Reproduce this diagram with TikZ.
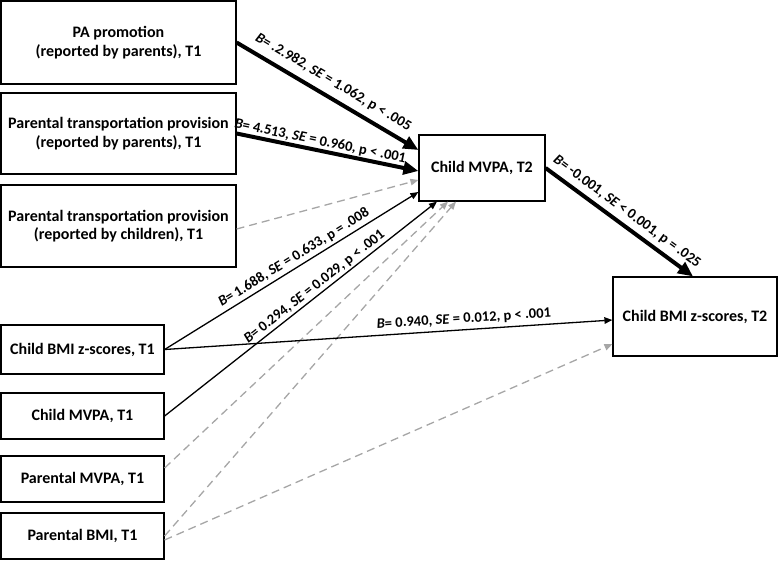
\documentclass[tikz,border=0pt]{standalone}
\usepackage{fontspec}
\setmainfont{Carlito}
\usetikzlibrary{arrows.meta}

\begin{document}
\begin{tikzpicture}[x=1pt, y=-1pt,
        box/.style={draw, line width=1.2pt, align=center, inner sep=2pt,
            font=\fontsize{16}{18.5}\selectfont\bfseries},
        sig/.style={line width=1.3pt, -{Triangle[length=8pt,width=6.5pt]}},
        strong/.style={line width=4pt, -{Triangle[length=15pt,width=13pt]}},
        ns/.style={line width=1.3pt, black!35, dash pattern=on 8pt off 5pt,
            -{Triangle[length=8pt,width=6.5pt]}},
        est/.style={sloped, above, inner sep=3pt, font=\fontsize{14.5}{16}\selectfont\bfseries}]
        %\draw[step=50pt,gray,very thin] (0,0) grid (779,560);
        \useasboundingbox (0,0) rectangle (779,560);

        \node[box, minimum width=235pt, minimum height=83pt] (pa) at (118.5,42.5) {PA promotion\\(reported by parents), T1};
        \node[box, minimum width=235pt, minimum height=81pt] (tpp) at (118.5,133.5) {Parental transportation provision\\(reported by parents), T1};
        \node[box, minimum width=235pt, minimum height=82pt] (tpc) at (118.5,226) {Parental transportation provision\\(reported by children), T1};
        \node[box, minimum width=163pt, minimum height=49pt] (bmi1) at (82.5,349.5) {Child BMI z-scores, T1};
        \node[box, minimum width=163pt, minimum height=46pt] (mvpa1) at (82.5,416) {Child MVPA, T1};
        \node[box, minimum width=163pt, minimum height=46pt] (pmvpa) at (82.5,479) {Parental MVPA, T1};
        \node[box, minimum width=163pt, minimum height=46pt] (pbmi) at (82.5,536) {Parental BMI, T1};

        \node[box, minimum width=126pt, minimum height=66pt] (mvpa2) at (482,168) {Child MVPA, T2};
        \node[box, minimum width=164pt, minimum height=79pt] (bmi2) at (695,316.5) {Child BMI z-scores, T2};

        \draw[ns] ([yshift=-3pt]tpc.east) -- ([yshift=-12pt]mvpa2.west);
        \draw[ns] ([yshift=11pt]pmvpa.east) -- ([xshift=-34pt]mvpa2.south);
        \draw[ns] (pbmi.east) -- ([xshift=-26pt]mvpa2.south);
        \draw[ns] ([yshift=-4pt]pbmi.east) -- ([yshift=-27.5pt]bmi2.west);

        \draw[strong] (pa.east) -- ([yshift=18pt]mvpa2.west)
            node[est, pos=0.49, inner sep=7pt] {\textit{B}= .2.982, \textit{SE} = 1.062, p < .005};
        \draw[strong] (tpp.east) -- ([yshift=-3pt]mvpa2.west)
            node[est, pos=0.45, inner sep=1pt] {\textit{B}= 4.513, \textit{SE} = 0.960, p < .001};
        \draw[sig] (bmi1.east) -- ([yshift=-24pt]mvpa2.west)
            node[est, pos=0.53] {\textit{B}= 1.688, \textit{SE} = 0.633, p = .008};
        \draw[sig] (mvpa1.east) -- ([xshift=-45pt]mvpa2.south)
            node[est, pos=0.57, inner sep=2pt] {\textit{B}= 0.294, \textit{SE} = 0.029, p < .001};
        \draw[sig] (bmi1.east) -- ([yshift=-3.5pt]bmi2.west)
            node[est, pos=0.67, inner sep=4pt] {\textit{B}= 0.940, \textit{SE} = 0.012, p < .001};
        \draw[strong] (mvpa2.east) -- ([xshift=-2pt]bmi2.north)
            node[est, pos=0.5, inner sep=5pt] {\textit{B}= -0.001, \textit{SE} < 0.001, p = .025};
\end{tikzpicture}
\end{document}
